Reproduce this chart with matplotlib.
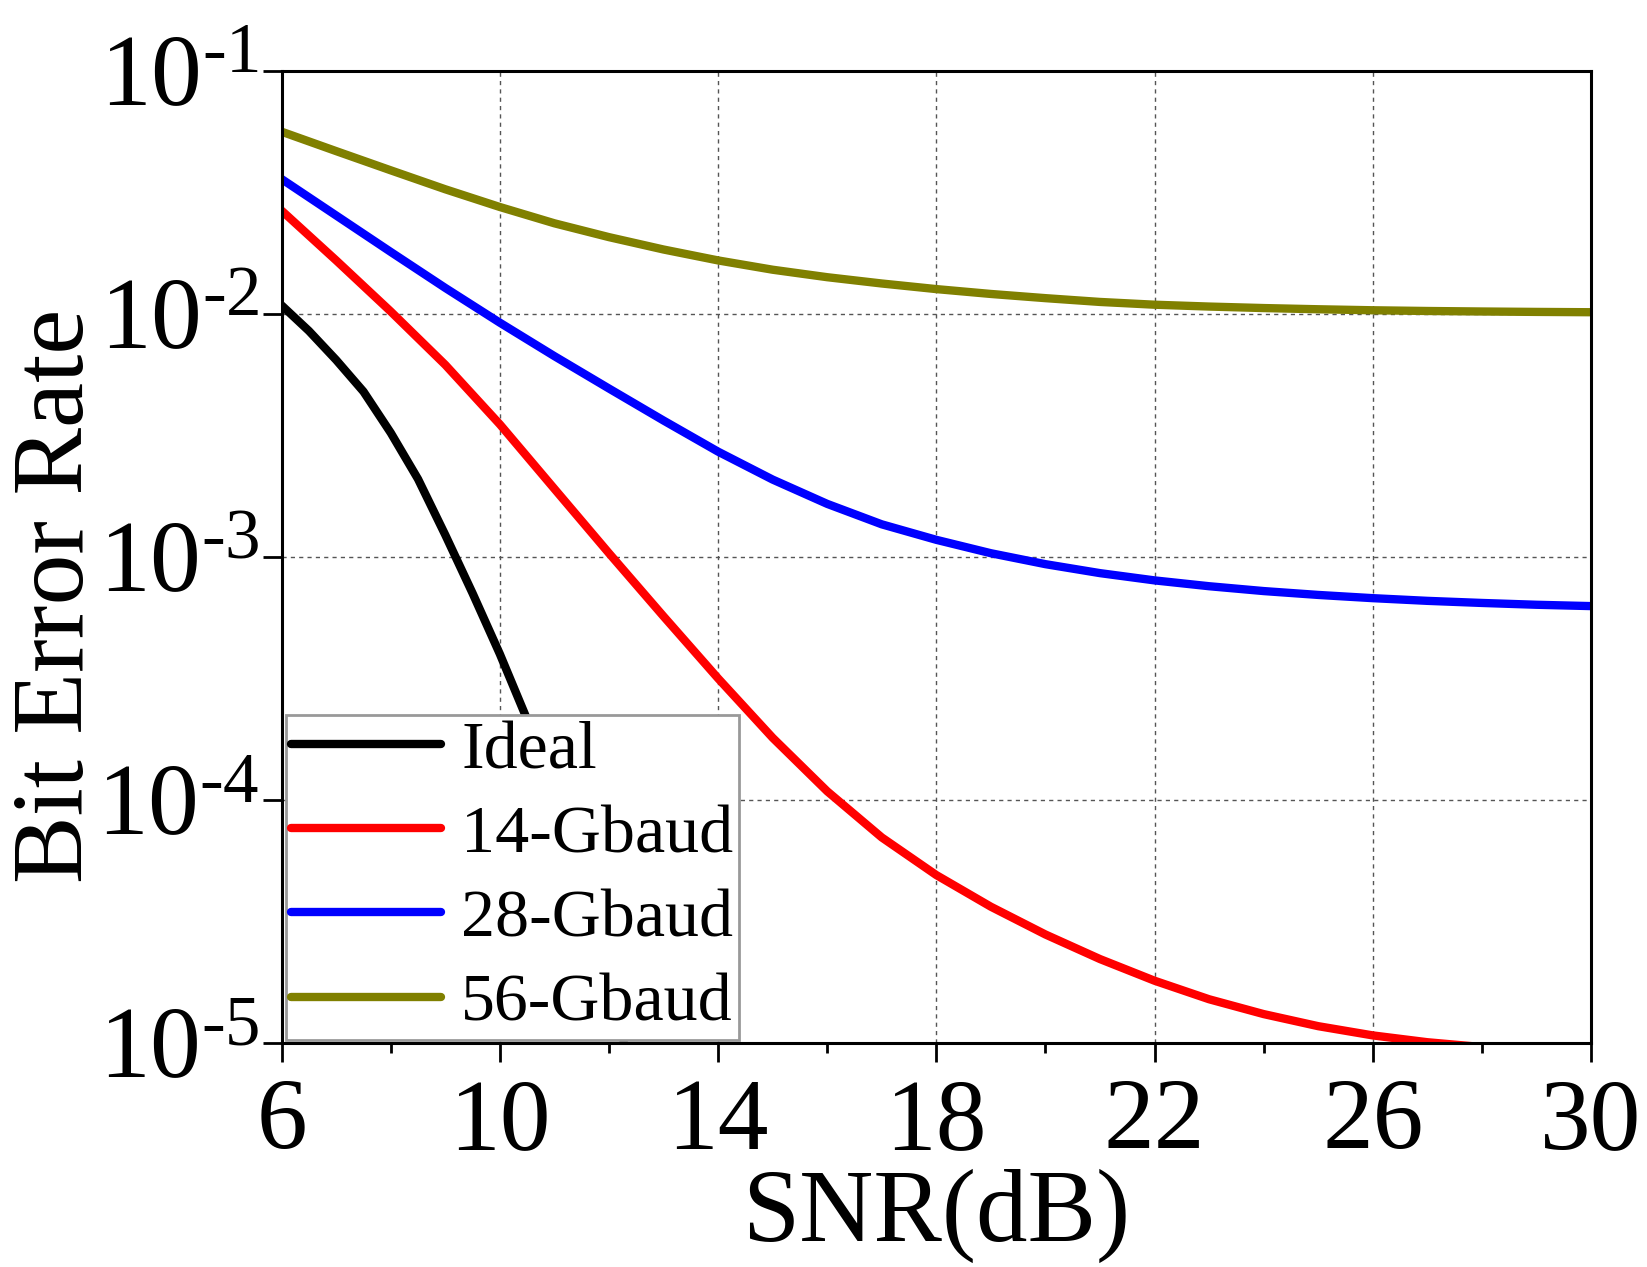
import matplotlib
matplotlib.use("Agg")
import matplotlib.pyplot as plt
import numpy as np

plt.rcParams['font.family'] = ['Liberation Serif', 'DejaVu Serif']
plt.rcParams['mathtext.fontset'] = 'custom'
plt.rcParams['mathtext.rm'] = 'Liberation Serif'
plt.rcParams['mathtext.it'] = 'Liberation Serif:italic'

# values
snr = list(range(6, 31))
snr_ideal = [6, 6.5, 7, 7.5, 8, 8.5, 9, 9.5, 10, 10.5, 11, 11.5, 12, 12.5]

ber_ideal = [1.084e-2, 8.51e-3, 6.46e-3, 4.79e-3, 3.24e-3, 2.09e-3, 1.23e-3,
             7.08e-4, 3.98e-4, 2.14e-4, 1.0e-4, 4.27e-5, 1.74e-5, 6.3e-6]
ber_14 = [2.661e-2, 1.660e-2, 1.023e-2, 6.17e-3, 3.51e-3, 1.905e-3, 1.035e-3,
          5.69e-4, 3.16e-4, 1.80e-4, 1.084e-4, 7.0e-5, 4.90e-5, 3.63e-5,
          2.79e-5, 2.21e-5, 1.80e-5, 1.51e-5, 1.312e-5, 1.17e-5, 1.072e-5,
          1.005e-5, 9.6e-6, 9.29e-6, 9.08e-6]
ber_28 = [3.589e-2, 2.541e-2, 1.799e-2, 1.279e-2, 9.20e-3, 6.70e-3, 4.93e-3,
          3.64e-3, 2.71e-3, 2.08e-3, 1.652e-3, 1.361e-3, 1.175e-3, 1.035e-3,
          9.33e-4, 8.57e-4, 8.0e-4, 7.57e-4, 7.23e-4, 6.97e-4, 6.76e-4,
          6.59e-4, 6.46e-4, 6.35e-4, 6.27e-4]
ber_56 = [5.623e-2, 4.677e-2, 3.899e-2, 3.258e-2, 2.754e-2, 2.36e-2, 2.07e-2,
          1.841e-2, 1.66e-2, 1.52e-2, 1.416e-2, 1.334e-2, 1.265e-2, 1.208e-2,
          1.161e-2, 1.12e-2, 1.091e-2, 1.072e-2, 1.057e-2, 1.045e-2, 1.035e-2,
          1.028e-2, 1.023e-2, 1.019e-2, 1.016e-2]

labels = ['Ideal', '14-Gbaud', '28-Gbaud', '56-Gbaud']
colors = ['black', '#ff0000', '#0000ff', '#808000']

xticks = [6, 10, 14, 18, 22, 26, 30]
yticks = [1e-5, 1e-4, 1e-3, 1e-2, 1e-1]
ytick_labels = ['$10^{\u2010 5}$', '$10^{\u2010 4}$', '$10^{\u2010 3}$',
                '$10^{\u2010 2}$', '$10^{\u2010 1}$']

fig = plt.figure(figsize=(16.47, 12.67), dpi=100)
ax = fig.add_axes([0.171, 0.177, 0.795, 0.767])

series = [(snr_ideal, ber_ideal), (snr, ber_14), (snr, ber_28), (snr, ber_56)]
for (x, y), lab, c in zip(series, labels, colors):
    ax.plot(x, y, color=c, lw=6, label=lab, solid_capstyle='round')

ax.set_yscale('log')
ax.set_xlim(6, 30)
ax.set_ylim(1e-5, 1e-1)

ax.set_xticks(xticks)
ax.set_xticklabels([str(t) for t in xticks])
ax.set_xticks([8, 12, 16, 20, 24, 28], minor=True)
ax.set_yticks(yticks)
ax.set_yticklabels(ytick_labels)
ax.yaxis.set_minor_locator(matplotlib.ticker.LogLocator(base=10, subs=np.arange(2, 10)))
ax.yaxis.set_minor_formatter(matplotlib.ticker.NullFormatter())

ax.tick_params(axis='both', which='major', labelsize=73, width=2, length=14,
               direction='out', top=False, right=False)
ax.tick_params(axis='both', which='minor', width=2, length=7, direction='out',
               top=False, right=False)
ax.tick_params(axis='x', which='major', pad=12)
ax.tick_params(axis='y', which='major', pad=2)

for s in ax.spines.values():
    s.set_linewidth(2.2)

ax.grid(True, which='major', linestyle=(0, (3, 3)), color='#555555', lw=1.0)

ax.set_xlabel('SNR(dB)', fontsize=74, labelpad=-2)
ax.set_ylabel('Bit Error Rate', fontsize=73)
ax.yaxis.set_label_coords(-0.135, 0.46)

leg = ax.legend(loc='lower left', bbox_to_anchor=(0.003, 0.003), borderaxespad=0,
                fontsize=49, frameon=True, fancybox=False, framealpha=1,
                handlelength=2.2, handletextpad=0.3, labelspacing=0.33,
                borderpad=0.08)
leg.get_frame().set_edgecolor('#999999')
leg.get_frame().set_linewidth(2)

fig.savefig('out.png', dpi=100)
